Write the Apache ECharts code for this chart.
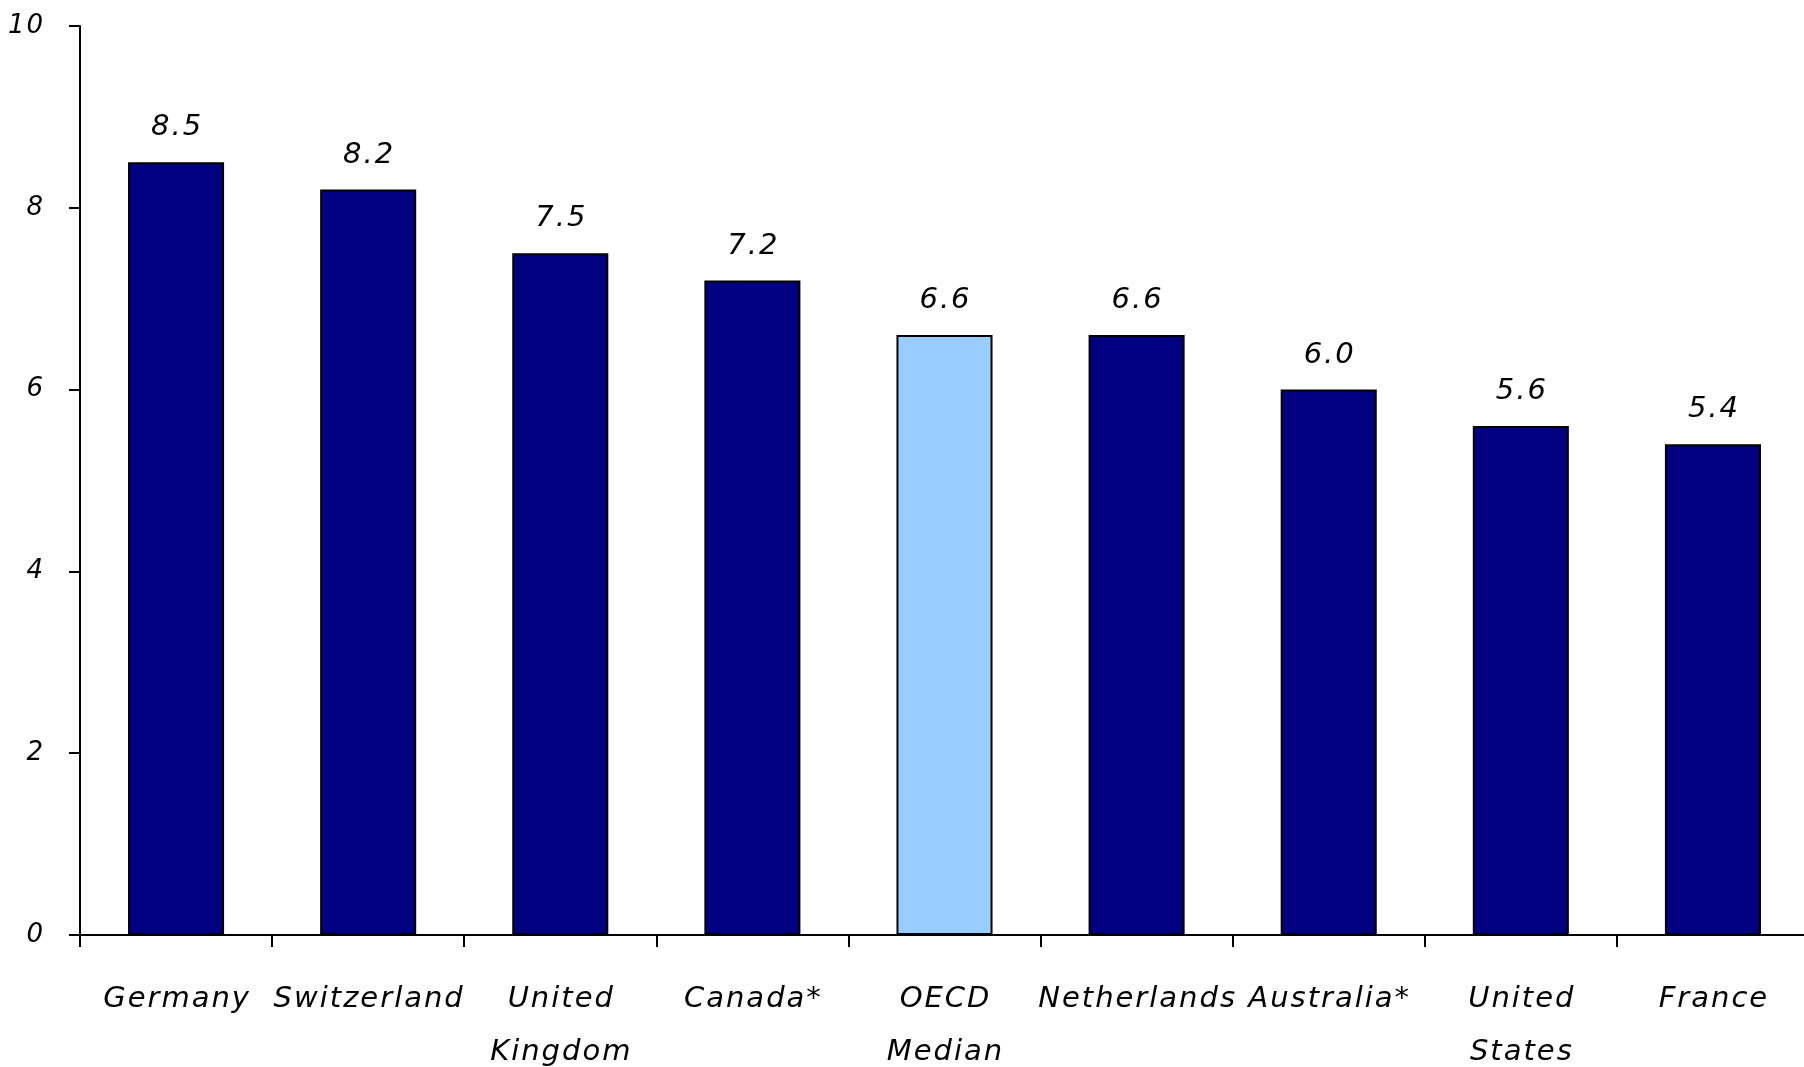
<!DOCTYPE html>
<html>
<head>
<meta charset="utf-8">
<script src="https://cdn.jsdelivr.net/npm/echarts@6/dist/echarts.min.js"></script>
<style>
html,body{margin:0;padding:0;background:#fff;overflow:hidden;}
#chart{width:1804px;height:1067px;}
</style>
</head>
<body>
<div id="chart"></div>
<script>
const categories = ['Germany', 'Switzerland', 'United\nKingdom', 'Canada*', 'OECD\nMedian', 'Netherlands', 'Australia*', 'United\nStates', 'France'];
const values = [8.5, 8.2, 7.5, 7.2, 6.6, 6.6, 6.0, 5.6, 5.4];
const highlightCategory = 'OECD\nMedian';
const yTicks = [0, 2, 4, 6, 8, 10];

// the reference text is drawn with slightly wider tracking
(function () {
  const proto = CanvasRenderingContext2D.prototype;
  if (!('letterSpacing' in proto)) return;
  const origFill = proto.fillText;
  proto.fillText = function (t, x, y, m) {
    const prev = this.letterSpacing;
    this.letterSpacing = '2px';
    const shift = this.textAlign === 'center' ? 1 : (this.textAlign === 'right' || this.textAlign === 'end') ? 2 : 0;
    if (m === undefined) origFill.call(this, t, x + shift, y);
    else origFill.call(this, t, x + shift, y, m);
    this.letterSpacing = prev;
  };
})();

const FONT = '"DejaVu Sans", Verdana, sans-serif';
const chart = echarts.init(document.getElementById('chart'), null, {renderer: 'canvas'});
chart.setOption({
  animation: false,
  backgroundColor: '#ffffff',
  grid: {left: 80, right: -5, top: 26, bottom: 132, containLabel: false, outerBoundsMode: 'none'},
  xAxis: {
    type: 'category',
    data: categories,
    boundaryGap: true,
    axisLine: {show: true, lineStyle: {color: '#000', width: 2}},
    axisTick: {show: true, inside: false, length: 12, alignWithLabel: false, lineStyle: {color: '#000', width: 2}},
    axisLabel: {
      interval: 0, margin: 38, color: '#000',
      fontFamily: FONT, fontStyle: 'italic', fontSize: 29, lineHeight: 53
    },
    splitLine: {show: false}
  },
  yAxis: {
    type: 'value',
    min: yTicks[0], max: yTicks[yTicks.length - 1], interval: 2,
    axisLine: {show: true, lineStyle: {color: '#000', width: 2}},
    axisTick: {show: true, inside: false, length: 11, lineStyle: {color: '#000', width: 2}},
    axisLabel: {margin: 37, color: '#000', fontFamily: FONT, fontStyle: 'italic', fontSize: 26},
    splitLine: {show: false}
  },
  series: [{
    type: 'bar',
    barCategoryGap: '50%',
    data: values.map((v, i) => ({
      value: v,
      itemStyle: {color: categories[i] === highlightCategory ? '#99CCFF' : '#000080'}
    })),
    itemStyle: {borderColor: '#000', borderWidth: 2},
    label: {
      show: true, position: 'top', distance: 20,
      color: '#000', fontFamily: FONT, fontStyle: 'italic', fontSize: 29,
      formatter: p => p.value.toFixed(1)
    }
  }]
});
</script>
</body>
</html>
